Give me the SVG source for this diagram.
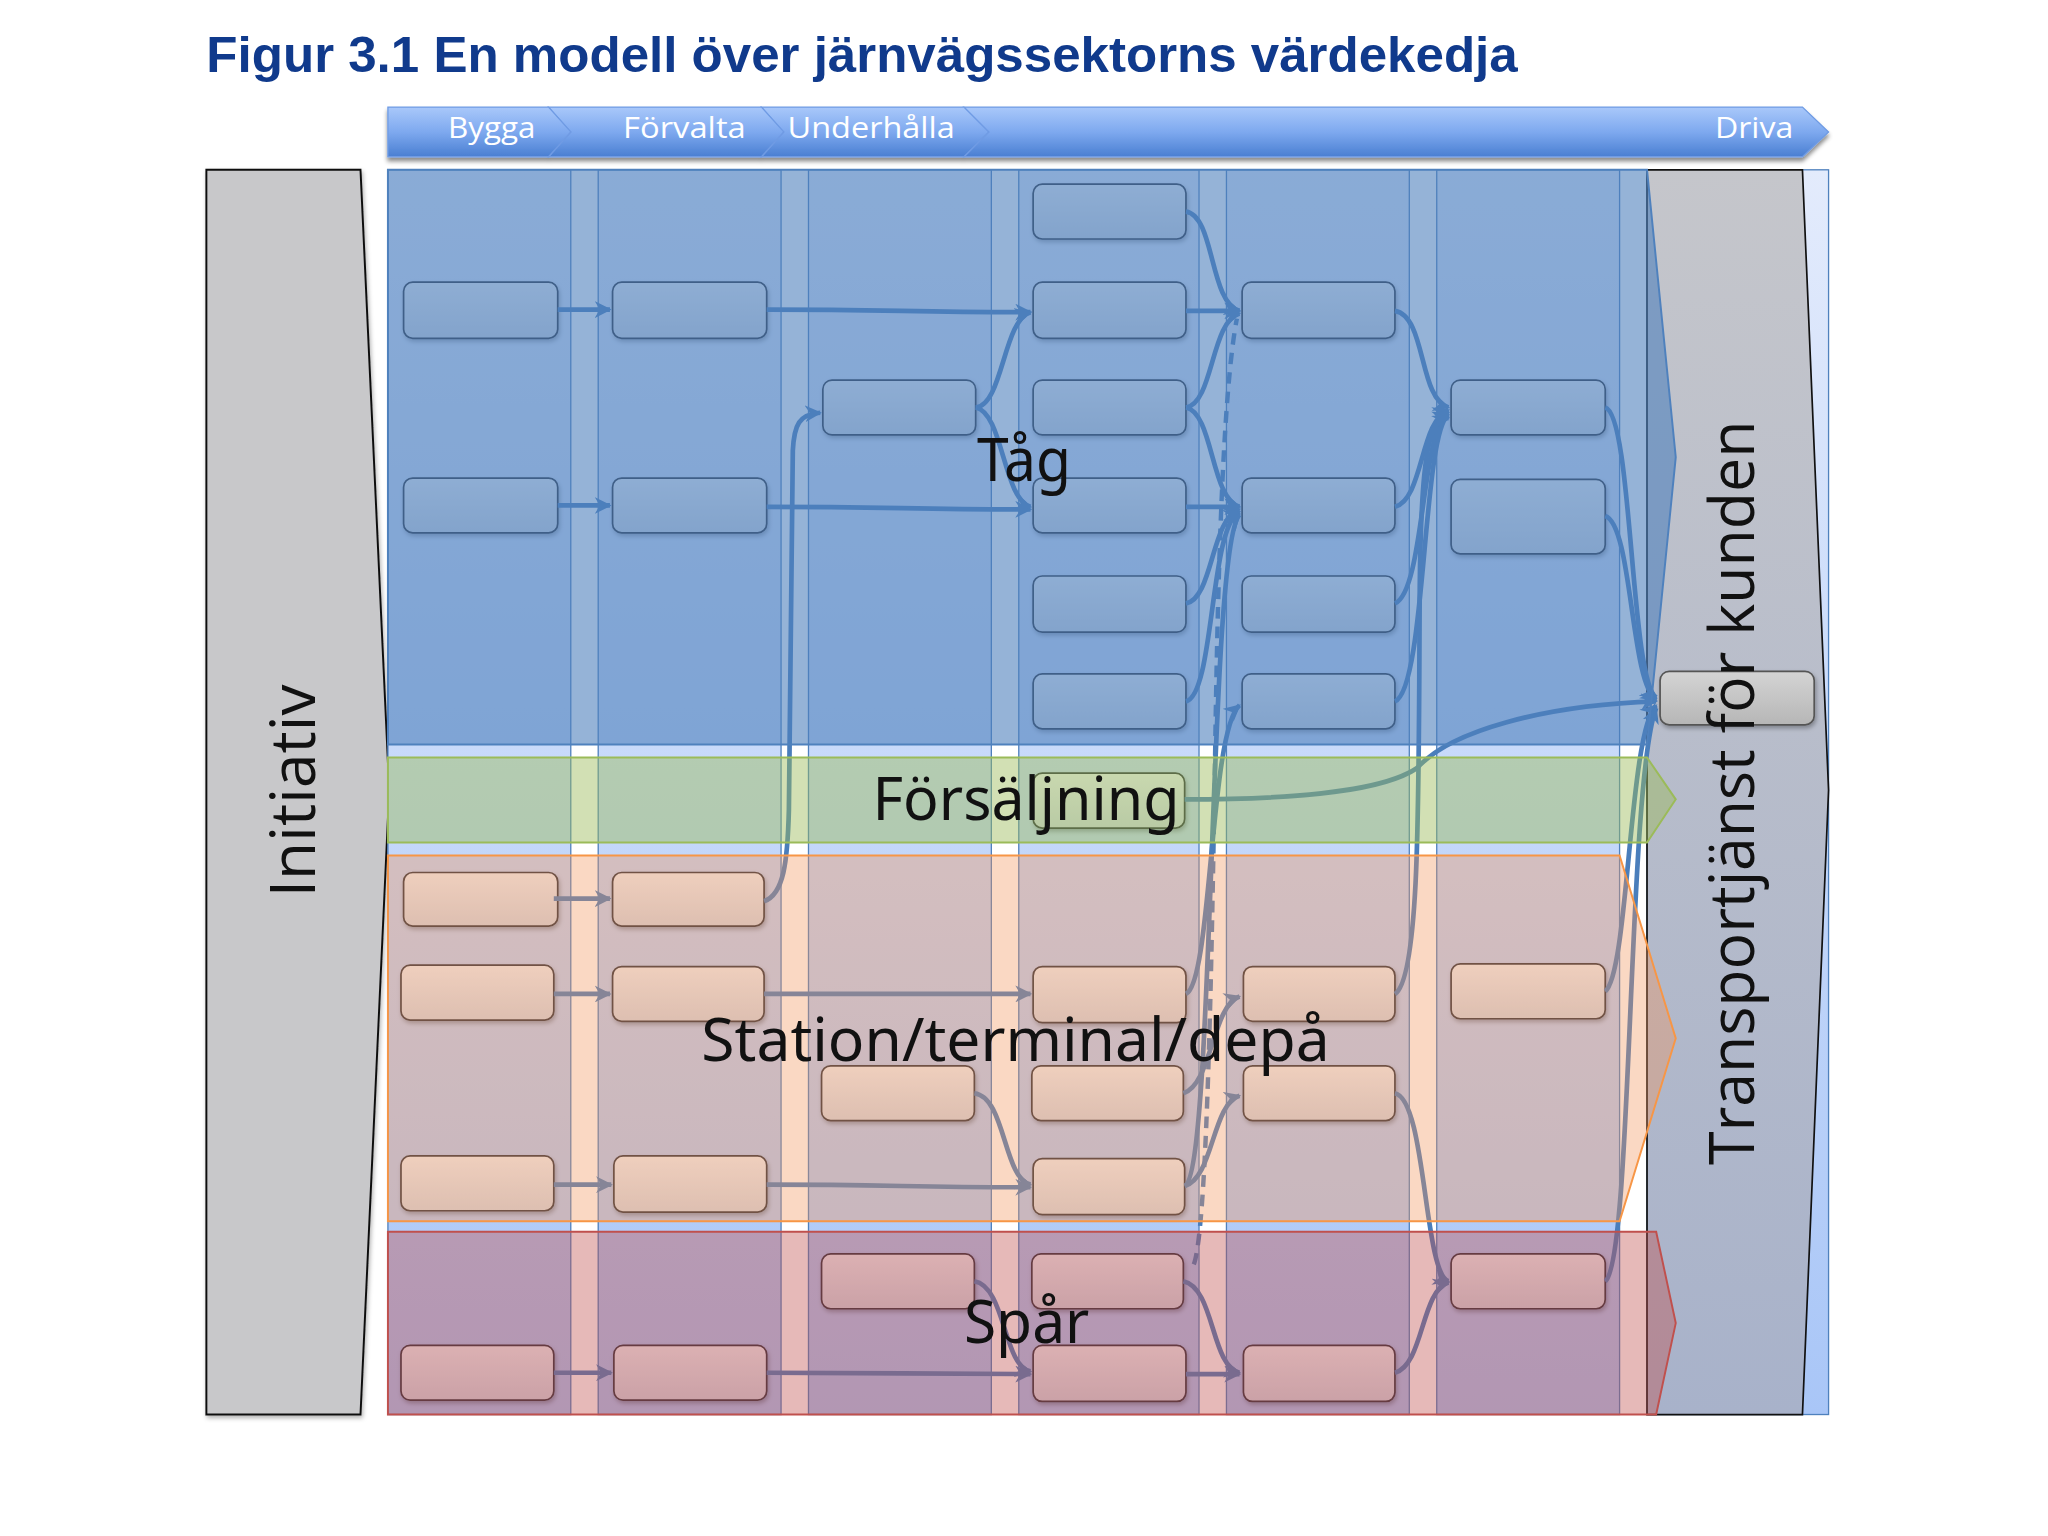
<svg xmlns="http://www.w3.org/2000/svg" width="2048" height="1536" viewBox="0 0 2048 1536">
<defs>
<linearGradient id="hdr" x1="0" y1="0" x2="0" y2="1"><stop offset="0" stop-color="#a9c8fa"/><stop offset="0.5" stop-color="#7ea9ef"/><stop offset="1" stop-color="#4a7fd2"/></linearGradient>
<linearGradient id="colbg" x1="0" y1="0" x2="0" y2="1"><stop offset="0" stop-color="#e3ebfc"/><stop offset="1" stop-color="#a9c6f7"/></linearGradient>
<linearGradient id="nodeg" x1="0" y1="0" x2="0" y2="1"><stop offset="0" stop-color="#eef1f6"/><stop offset="1" stop-color="#d2d8e3"/></linearGradient>
<linearGradient id="gnode" x1="0" y1="0" x2="0" y2="1"><stop offset="0" stop-color="#d4d4d4"/><stop offset="1" stop-color="#b6b6b6"/></linearGradient>
<linearGradient id="trg" x1="0" y1="0" x2="0" y2="1"><stop offset="0" stop-color="#c5c6cb"/><stop offset="1" stop-color="#a8b2ca"/></linearGradient>
<filter id="sh" x="-10%" y="-20%" width="130%" height="160%"><feDropShadow dx="1" dy="2" stdDeviation="1.5" flood-color="#000" flood-opacity="0.3"/></filter>
<filter id="hsh" x="-5%" y="-20%" width="110%" height="160%"><feDropShadow dx="0" dy="3" stdDeviation="1.5" flood-color="#000" flood-opacity="0.45"/></filter>
<marker id="arr" viewBox="0 0 10 10" refX="9" refY="5" markerWidth="3.6" markerHeight="3.6" orient="auto" markerUnits="strokeWidth"><path d="M0,0 L10,5 L0,10 L3,5 z" fill="#4a7ebb"/></marker>
<style>
.node rect{fill:url(#nodeg);stroke:#2a2f3a;stroke-width:1.3;filter:url(#sh)}
.col{fill:url(#colbg);stroke:#4f81bd;stroke-width:1}
.c{fill:none;stroke:#4a7ebb;stroke-width:3.6;marker-end:url(#arr)}
.d{fill:none;stroke:#4a7ebb;stroke-width:3.4;stroke-dasharray:9 6}
.band{stroke-width:1.5}
.seg{fill:url(#hdr);stroke:#6f9be4;stroke-width:1}
.ht{font-family:"Open Sans","Noto Sans",sans-serif;font-size:22px;fill:#fff}
.lbl{font-family:"Noto Sans","Open Sans",sans-serif;font-size:46px;fill:#111}
.vl{font-family:"Open Sans","Noto Sans",sans-serif;font-size:47px;fill:#111}
</style>
</defs>
<rect width="2048" height="1536" fill="#fff"/>
<g transform="scale(1.30612)">
<text x="158" y="55" font-family="Liberation Sans, Arial, sans-serif" font-weight="bold" font-size="38" fill="#103a8c" textLength="1004" lengthAdjust="spacingAndGlyphs">Figur 3.1 En modell över järnvägssektorns värdekedja</text>

<g id="header" filter="url(#hsh)">
<polygon class="seg" points="738,82 1380,82 1400,101 1380,120 738,120 757,101"/>
<polygon class="seg" points="583,82 738,82 757,101 738,120 583,120 600,101"/>
<polygon class="seg" points="420,82 583,82 600,101 583,120 420,120 437,101"/>
<polygon class="seg" points="297,82 420,82 437,101 420,120 297,120"/>
</g>
<g id="header-labels">
<text class="ht" x="343" y="106" textLength="67" lengthAdjust="spacingAndGlyphs">Bygga</text>
<text class="ht" x="477" y="106" textLength="94" lengthAdjust="spacingAndGlyphs">Förvalta</text>
<text class="ht" x="603" y="106" textLength="128" lengthAdjust="spacingAndGlyphs">Underhålla</text>
<text class="ht" x="1313" y="106" textLength="60" lengthAdjust="spacingAndGlyphs">Driva</text>
</g>

<g id="initiativ">
<polygon points="158,130 276,130 298,605 276,1083 158,1083" fill="#c8c8ca" stroke="#111" stroke-width="1.5" filter="url(#sh)"/>
</g>

<g id="grid">
<rect class="col" x="297" y="130" width="140" height="953"/>
<rect class="col" x="458" y="130" width="140" height="953"/>
<rect class="col" x="619" y="130" width="140" height="953"/>
<rect class="col" x="780" y="130" width="138" height="953"/>
<rect class="col" x="939" y="130" width="140" height="953"/>
<rect class="col" x="1100" y="130" width="140" height="953"/>
<rect class="col" x="1261" y="130" width="139" height="953"/>
</g>

<g id="transport">
<polygon points="1261,130 1380,130 1400,605 1380,1083 1261,1083" fill="url(#trg)" stroke="#111" stroke-width="1.3"/>
</g>

<g id="nodes">
<g id="T1a" class="node"><rect x="309" y="216" width="118" height="43" rx="7"/></g>
<g id="T1b" class="node"><rect x="309" y="366" width="118" height="42" rx="7"/></g>
<g id="T2a" class="node"><rect x="469" y="216" width="118" height="43" rx="7"/></g>
<g id="T2b" class="node"><rect x="469" y="366" width="118" height="42" rx="7"/></g>
<g id="T3" class="node"><rect x="630" y="291" width="117" height="42" rx="7"/></g>
<g id="T4_1" class="node"><rect x="791" y="141" width="117" height="42" rx="7"/></g>
<g id="T4_2" class="node"><rect x="791" y="216" width="117" height="43" rx="7"/></g>
<g id="T4_3" class="node"><rect x="791" y="291" width="117" height="42" rx="7"/></g>
<g id="T4_4" class="node"><rect x="791" y="366" width="117" height="42" rx="7"/></g>
<g id="T4_5" class="node"><rect x="791" y="441" width="117" height="43" rx="7"/></g>
<g id="T4_6" class="node"><rect x="791" y="516" width="117" height="42" rx="7"/></g>
<g id="T5_1" class="node"><rect x="951" y="216" width="117" height="43" rx="7"/></g>
<g id="T5_2" class="node"><rect x="951" y="366" width="117" height="42" rx="7"/></g>
<g id="T5_3" class="node"><rect x="951" y="441" width="117" height="43" rx="7"/></g>
<g id="T5_4" class="node"><rect x="951" y="516" width="117" height="42" rx="7"/></g>
<g id="T6_1" class="node"><rect x="1111" y="291" width="118" height="42" rx="7"/></g>
<g id="T6_2" class="node"><rect x="1111" y="367" width="118" height="57" rx="7"/></g>
<g id="F4" class="node"><rect x="791" y="592" width="116" height="42" rx="7"/></g>
<g id="S1a" class="node"><rect x="309" y="668" width="118" height="41" rx="7"/></g>
<g id="S1b" class="node"><rect x="307" y="739" width="117" height="42" rx="7"/></g>
<g id="S1c" class="node"><rect x="307" y="885" width="117" height="42" rx="7"/></g>
<g id="S2a" class="node"><rect x="469" y="668" width="116" height="41" rx="7"/></g>
<g id="S2b" class="node"><rect x="469" y="740" width="116" height="42" rx="7"/></g>
<g id="S2c" class="node"><rect x="470" y="885" width="117" height="43" rx="7"/></g>
<g id="S3" class="node"><rect x="629" y="816" width="117" height="42" rx="7"/></g>
<g id="S4a" class="node"><rect x="791" y="740" width="117" height="43" rx="7"/></g>
<g id="S4b" class="node"><rect x="790" y="816" width="116" height="42" rx="7"/></g>
<g id="S4c" class="node"><rect x="791" y="887" width="116" height="43" rx="7"/></g>
<g id="S5a" class="node"><rect x="952" y="740" width="116" height="42" rx="7"/></g>
<g id="S5b" class="node"><rect x="952" y="816" width="116" height="42" rx="7"/></g>
<g id="S6" class="node"><rect x="1111" y="738" width="118" height="42" rx="7"/></g>
<g id="P1" class="node"><rect x="307" y="1030" width="117" height="42" rx="7"/></g>
<g id="P2" class="node"><rect x="470" y="1030" width="117" height="42" rx="7"/></g>
<g id="P3" class="node"><rect x="629" y="960" width="117" height="42" rx="7"/></g>
<g id="P4a" class="node"><rect x="790" y="960" width="116" height="42" rx="7"/></g>
<g id="P4b" class="node"><rect x="791" y="1030" width="117" height="43" rx="7"/></g>
<g id="P5" class="node"><rect x="952" y="1030" width="116" height="43" rx="7"/></g>
<g id="P6" class="node"><rect x="1111" y="960" width="118" height="42" rx="7"/></g>
</g>

<g id="connectors">
<path class="c" d="M427,237 L467,237"/>
<path class="c" d="M587,237 C680,237 700,239 789,239"/>
<path class="c" d="M427,387 L467,387"/>
<path class="c" d="M587,388 C680,388 700,390 789,390"/>
<path class="c" d="M585,690 C600,685 603,660 604,620 L607,345 C608,325 612,317 628,316"/>
<path class="c" d="M747,312 C768,310 768,245 789,239"/>
<path class="c" d="M747,312 C768,316 768,382 789,388"/>
<path class="c" d="M908,162 C930,165 926,232 949,238"/>
<path class="c" d="M908,238 L949,238"/>
<path class="c" d="M908,312 C929,309 927,246 949,240"/>
<path class="c" d="M908,312 C929,316 927,382 949,388"/>
<path class="c" d="M908,388 L949,388"/>
<path class="c" d="M908,462 C929,458 927,397 949,390"/>
<path class="c" d="M908,537 C930,532 926,402 949,392"/>
<path class="c" d="M1068,238 C1092,242 1086,305 1109,312"/>
<path class="c" d="M1068,388 C1090,382 1087,322 1109,314"/>
<path class="c" d="M1068,462 C1091,452 1088,326 1109,316"/>
<path class="c" d="M1068,537 C1092,527 1089,330 1109,318"/>
<path class="c" d="M1229,312 C1250,318 1248,520 1268,534"/>
<path class="c" d="M1229,395 C1250,402 1248,522 1268,536"/>
<path class="c" d="M907,612 C1000,612 1060,605 1085,588 C1110,560 1180,540 1268,537"/>
<path class="c" d="M424,688 L467,688"/>
<path class="c" d="M424,761 L467,761"/>
<path class="c" d="M585,761 C680,761 700,761 789,761"/>
<path class="c" d="M424,907 L468,907"/>
<path class="c" d="M587,907 C680,907 700,909 789,909"/>
<path class="c" d="M746,837 C770,840 768,902 789,907"/>
<path class="c" d="M908,761 C928,752 926,560 949,540"/>
<path class="c" d="M907,908 C930,898 925,420 949,394"/>
<path class="c" d="M906,837 C928,830 928,770 949,763"/>
<path class="c" d="M907,908 C929,902 928,845 949,839"/>
<path class="c" d="M1068,761 C1088,748 1086,600 1087,450 C1088,340 1095,322 1109,320"/>
<path class="c" d="M1068,837 C1092,842 1090,975 1109,981"/>
<path class="c" d="M1229,759 C1247,745 1247,560 1268,540"/>
<path class="c" d="M424,1051 L468,1051"/>
<path class="c" d="M587,1051 C680,1051 700,1052 789,1052"/>
<path class="c" d="M746,981 C770,985 768,1046 789,1050"/>
<path class="c" d="M906,981 C930,986 927,1046 949,1051"/>
<path class="c" d="M908,1052 L949,1052"/>
<path class="c" d="M1068,1051 C1090,1045 1088,988 1109,982"/>
<path class="c" d="M1229,981 C1250,965 1246,600 1268,542"/>
<path class="d" d="M914,968 C925,940 928,700 930,600 C932,450 936,300 947,244"/>
</g>

<g id="bands">
<polygon id="band-tag" class="band" points="297,130 1261,130 1283,350 1261,570 297,570" fill="#4f81bd" fill-opacity="0.6" stroke="#4f81bd"/>
<polygon id="band-forsaljning" class="band" points="297,580 1261,580 1283,612 1261,645 297,645" fill="#9bbb59" fill-opacity="0.45" stroke="#9bbb59"/>
<polygon id="band-station" class="band" points="297,655 1240,655 1283,795 1240,935 297,935" fill="#f2925a" fill-opacity="0.36" stroke="#f79646"/>
<polygon id="band-spar" class="band" points="297,943 1268,943 1283,1013 1268,1083 297,1083" fill="#c0504d" fill-opacity="0.4" stroke="#c0504d"/>
</g>

<g id="G" class="node"><rect x="1271" y="514" width="118" height="41" rx="7" style="fill:url(#gnode);stroke:#555"/></g>

<g id="labels">
<text class="lbl" x="748" y="368" textLength="72" lengthAdjust="spacingAndGlyphs">Tåg</text>
<text class="lbl" x="668" y="628" textLength="235" lengthAdjust="spacingAndGlyphs">Försäljning</text>
<text class="lbl" x="537" y="812" textLength="481" lengthAdjust="spacingAndGlyphs">Station/terminal/depå</text>
<text class="lbl" x="738" y="1028" textLength="96" lengthAdjust="spacingAndGlyphs">Spår</text>
<text class="vl" transform="translate(241,606) rotate(-90)" x="-81" y="0" textLength="163" lengthAdjust="spacingAndGlyphs">Initiativ</text>
<text class="vl" transform="translate(1343,607) rotate(-90)" x="-285" y="0" font-size="48" textLength="570" lengthAdjust="spacingAndGlyphs">Transportjänst för kunden</text>
</g>
</g>
</svg>
